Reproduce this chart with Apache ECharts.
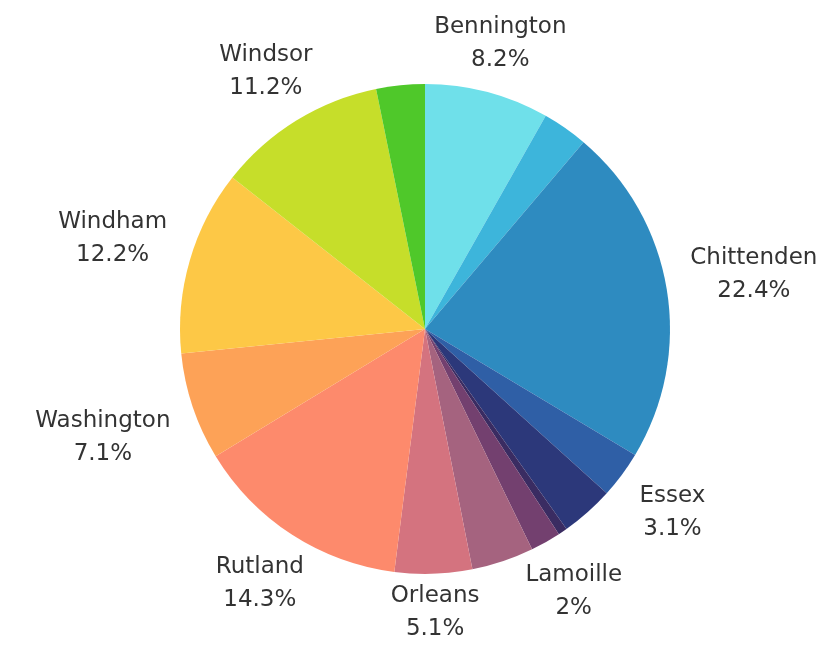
<!DOCTYPE html>
<html>
<head>
<meta charset="utf-8">
<script src="https://cdn.jsdelivr.net/npm/echarts@6/dist/echarts.min.js"></script>
<style>
  html, body { margin: 0; padding: 0; background: #fff; }
  #chart { width: 840px; height: 646px; }
</style>
</head>
<body>
<div id="chart"></div>
<script>
// counties, clockwise from 12 o'clock
var counties = ['Bennington', 'Caledonia', 'Chittenden', 'Essex', 'Franklin', 'Grand Isle', 'Lamoille',
                'Orange', 'Orleans', 'Rutland', 'Washington', 'Windham', 'Windsor', 'Addison'];
var shares = [8.2, 3.0, 22.4, 3.1, 3.5, 0.6, 2, 4.1, 5.1, 14.3, 7.1, 12.2, 11.2, 3.2];
var sliceColors = ['#6fe0ea', '#3db5db', '#2e8bc0', '#2f5fa6', '#2c387a', '#3a2c62', '#73406f',
                   '#a5637f', '#d4737f', '#fd8a6c', '#fda257', '#fdc846', '#c6de2a', '#4fc82a'];
// only these slices carry a label in the original
var labelled = ['Bennington', 'Chittenden', 'Essex', 'Lamoille', 'Orleans', 'Rutland',
                'Washington', 'Windham', 'Windsor'];

var W = 840, H = 646;
var cx = 425, cy = 329, R = 245;
var total = shares.reduce(function (a, b) { return a + b; }, 0);

// mid angle of every slice, measured clockwise from 12 o'clock
var midAngles = [];
var acc = 0;
for (var i = 0; i < shares.length; i++) {
    midAngles.push((acc + shares[i] / 2) / total * Math.PI * 2);
    acc += shares[i];
}

var data = counties.map(function (name, i) {
    return {
        name: name,
        value: shares[i],
        itemStyle: { color: sliceColors[i] },
        label: { show: labelled.indexOf(name) >= 0 }
    };
});

var chart = echarts.init(document.getElementById('chart'));
chart.setOption({
    animation: false,
    series: [{
        type: 'pie',
        center: [cx, cy],
        radius: R,
        startAngle: 90,
        clockwise: true,
        data: data,
        itemStyle: { borderWidth: 0 },
        label: {
            position: 'outside',
            formatter: function (p) { return p.name + '\n' + p.value + '%'; },
            fontFamily: 'DejaVu Sans',
            fontSize: 23,
            lineHeight: 33,
            color: '#333',
            align: 'center',
            overflow: 'none',
            edgeDistance: 0
        },
        labelLine: { show: false },
        labelLayout: function (params) {
            // push the label box outwards along the slice's mid direction
            var a = midAngles[params.dataIndex];
            var dx = Math.sin(a), dy = -Math.cos(a);
            var hw = params.labelRect.width / 2, hh = params.labelRect.height / 2;
            var edge = Math.min(
                Math.abs(dx) > 1e-6 ? hw / Math.abs(dx) : 1e9,
                Math.abs(dy) > 1e-6 ? hh / Math.abs(dy) : 1e9
            );
            var d = R + edge + 14 + 10 * Math.abs(dx);
            var x = cx + dx * d, y = cy + dy * d;
            y = Math.min(Math.max(y, hh), H - hh);
            x = Math.min(Math.max(x, hw), W - hw);
            return { x: x, y: y, align: 'center', verticalAlign: 'middle' };
        }
    }]
});
</script>
</body>
</html>
